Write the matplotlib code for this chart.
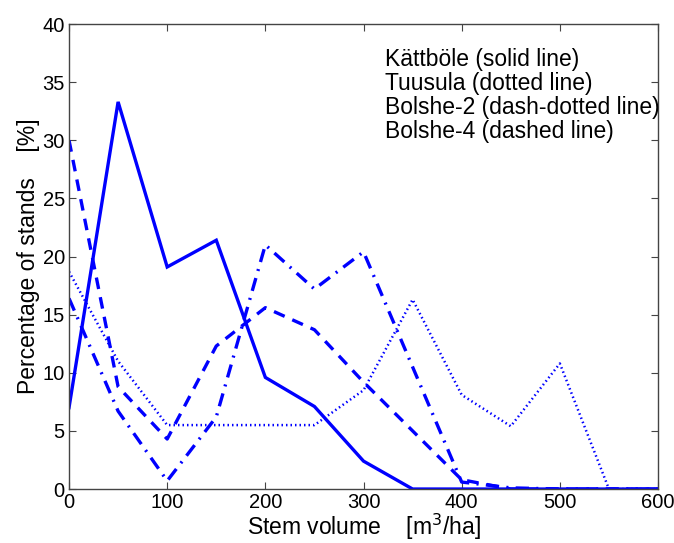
import matplotlib
matplotlib.use("Agg")
import matplotlib.pyplot as plt

plt.rcParams['font.family'] = ['Liberation Sans', 'DejaVu Sans']

# stem volume classes [m3/ha]
volume = [0, 50, 100, 150, 200, 250, 300, 350, 400, 450, 500, 550, 600]

# percentage of stands per site
kattbole = [7.0, 33.3, 19.1, 21.4, 9.6, 7.1, 2.4, 0, 0, 0, 0, 0, 0]
tuusula = [18.7, 11.0, 5.5, 5.5, 5.5, 5.5, 8.5, 16.3, 8.1, 5.4, 10.8, 0, 0]
bolshe2 = [16.4, 6.7, 0.7, 6.2, 21.0, 17.2, 20.4, 10.5, 0.6, 0.1, 0, 0, 0]
bolshe4 = [30.0, 8.8, 4.3, 12.3, 15.6, 13.7, 9.2, 5.0, 0.8, 0, 0, 0, 0]

labels = ["Kättböle (solid line)", "Tuusula (dotted line)",
          "Bolshe-2 (dash-dotted line)", "Bolshe-4 (dashed line)"]

blue = '#0000ff'

fig = plt.figure(figsize=(6.74, 5.43), dpi=100)
ax = fig.add_axes([0.1024, 0.0994, 0.8739, 0.8564])

ax.plot(volume, kattbole, color=blue, lw=2.4, ls='-', solid_joinstyle='miter')
ax.plot(volume, tuusula, color=blue, lw=1.8, ls=(0, (0.6, 1.2)))
ax.plot(volume, bolshe2, color=blue, lw=2.4, ls=(0, (4, 2.2, 0.6, 2.2)))
ax.plot(volume, bolshe4, color=blue, lw=2.4, ls=(0, (3.5, 2.5)))

ax.set_xlim(0, 600)
ax.set_ylim(0, 40)
ax.set_xticks(range(0, 601, 100))
ax.set_yticks(range(0, 41, 5))
ax.tick_params(direction='in', top=True, right=True, length=5, labelsize=14.5,
               color='#444444', pad=3)
for s in ax.spines.values():
    s.set_color('#444444')
    s.set_linewidth(1.0)

ax.set_xlabel("Stem volume    [m$^3$/ha]", fontsize=16.5, labelpad=0)
ax.set_ylabel("Percentage of stands    [%]", fontsize=16.5, labelpad=2)

for i, lab in enumerate(labels):
    ax.text(0.5365, 0.9226 - i * 0.0516, lab, transform=ax.transAxes,
            fontsize=16.5, va='center', ha='left', clip_on=False)

fig.savefig("out.png", dpi=100)
